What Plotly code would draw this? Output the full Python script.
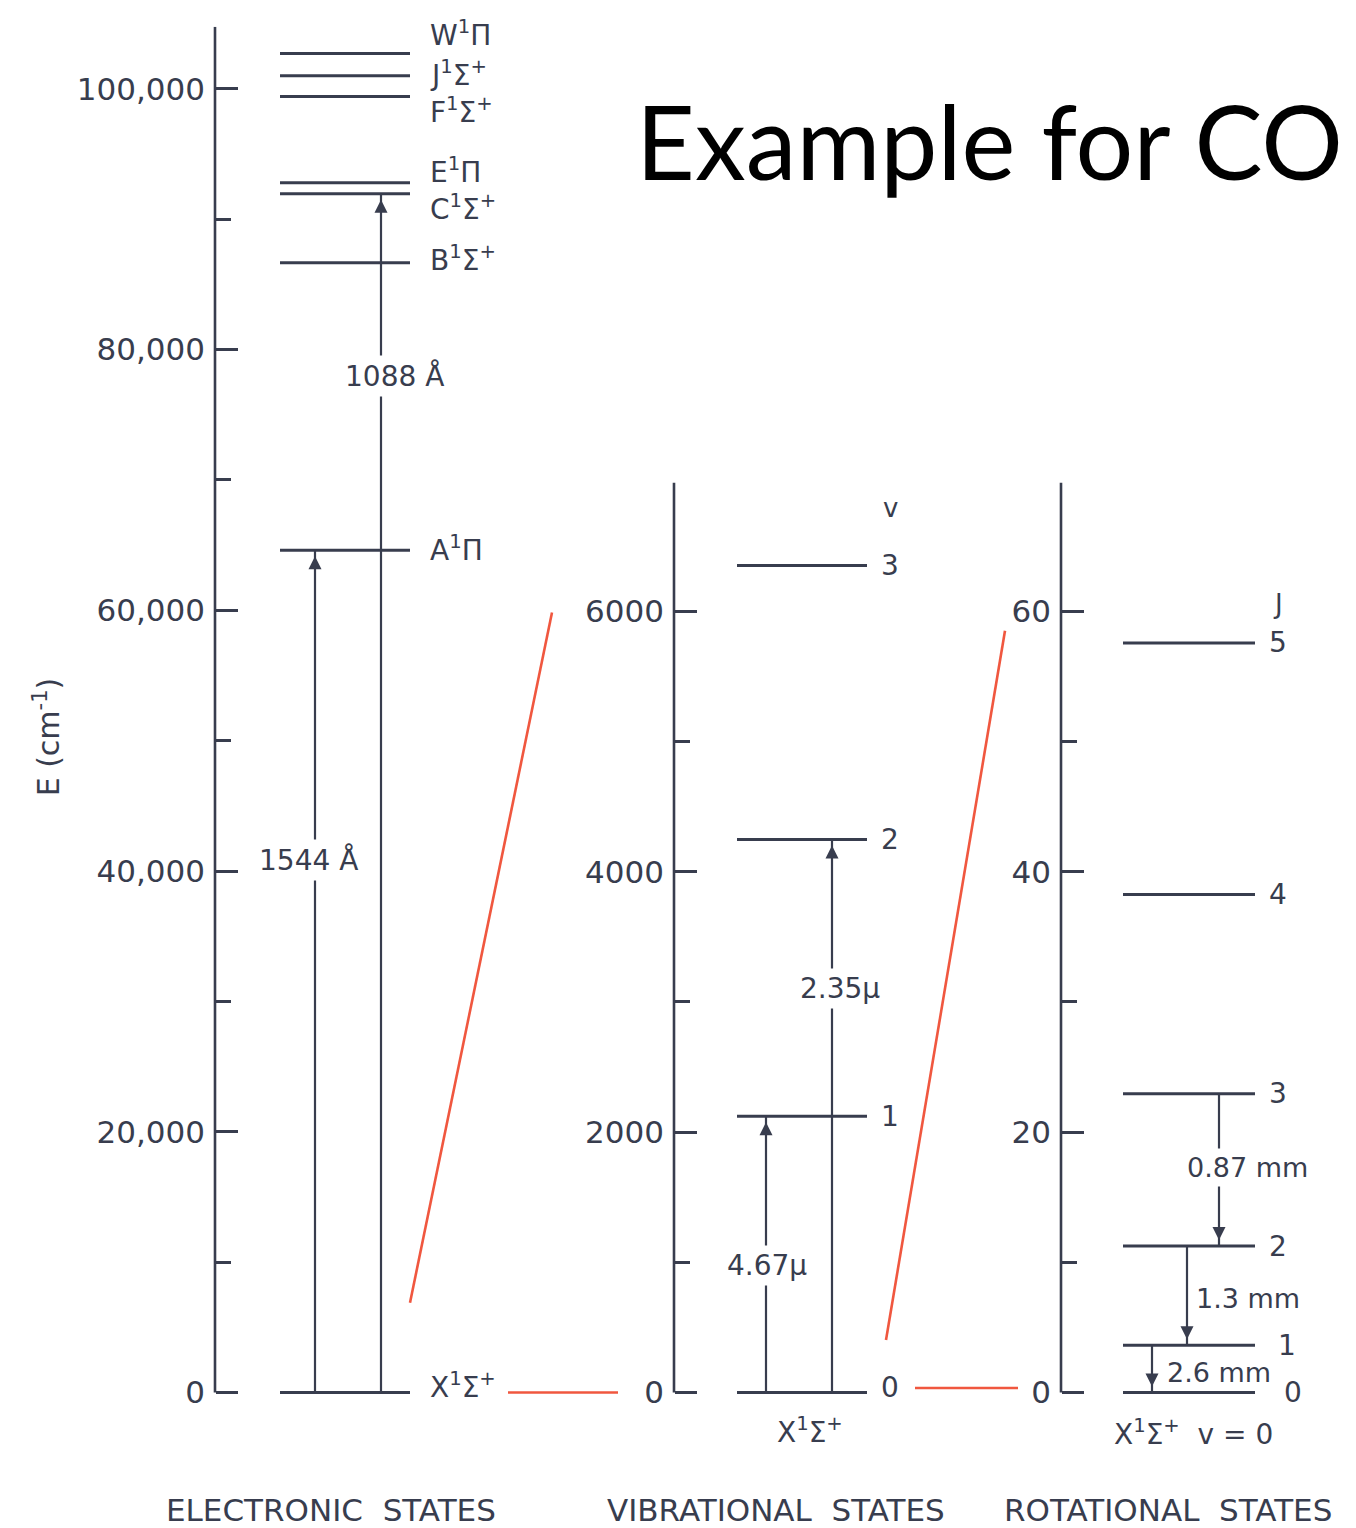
import plotly.graph_objects as go

# ---------------- data ----------------
# Electronic states of CO (cm^-1)
elec_labels = ["X<sup>1</sup>Σ<sup>+</sup>", "A<sup>1</sup>Π", "B<sup>1</sup>Σ<sup>+</sup>",
               "C<sup>1</sup>Σ<sup>+</sup>", "E<sup>1</sup>Π", "F<sup>1</sup>Σ<sup>+</sup>",
               "J<sup>1</sup>Σ<sup>+</sup>", "W<sup>1</sup>Π"]
elec_energy = [0, 64600, 86650, 91950, 92800, 99400, 101000, 102700]
elec_ticks = [0, 20000, 40000, 60000, 80000, 100000]
elec_tick_text = ["0", "20,000", "40,000", "60,000", "80,000", "100,000"]
elec_minor = [10000, 30000, 50000, 70000, 90000]
elec_trans_from = [0, 0]
elec_trans_to = [64600, 91950]
elec_trans_text = ["1544 Å", "1088 Å"]

# Vibrational states (cm^-1)
vib_labels = ["0", "1", "2", "3"]
vib_energy = [0, 2121, 4247, 6351]
vib_ticks = [0, 2000, 4000, 6000]
vib_tick_text = ["0", "2000", "4000", "6000"]
vib_minor = [1000, 3000, 5000]
vib_trans_from = [0, 0]
vib_trans_to = [2121, 4247]
vib_trans_text = ["4.67μ", "2.35μ"]

# Rotational states (cm^-1)
rot_labels = ["0", "1", "2", "3", "4", "5"]
rot_energy = [0, 3.63, 11.25, 22.95, 38.25, 57.57]
rot_ticks = [0, 20, 40, 60]
rot_tick_text = ["0", "20", "40", "60"]
rot_minor = [10, 30, 50]
rot_trans_from = [22.95, 11.25, 3.63]
rot_trans_to = [11.25, 3.63, 0]
rot_trans_text = ["0.87 mm", "1.3 mm", "2.6 mm"]

# zoom-link (red) lines, in units of the panel to their right
link1_y = [690, 5990]      # vibrational-axis units
link1_flat_y = [0, 0]
link2_y = [4.03, 58.5]     # rotational-axis units
link2_flat_y = [0.35, 0.35]

# ---------------- layout / style ----------------
W, H = 1356, 1528
INK = "#383d4e"
RED = "#f0573f"
FONT = "DejaVu Sans"

# vertical calibration of the rendered page (target pixel -> layout pixel)
VSCALE = 0.99655
VOFF = -0.7


def lp(q):
    return (q - VOFF) / VSCALE


ZERO_PX = lp(1392.5)
BOTTOM_PX = lp(1404)


def geom(top_px, px_per_unit):
    top = lp(top_px)
    ppu = px_per_unit / VSCALE
    rng = [-(BOTTOM_PX - ZERO_PX) / ppu, (ZERO_PX - top) / ppu]
    dom = [(H - BOTTOM_PX) / H, (H - top) / H]
    return rng, dom


panels = {
    "y": dict(axis_x=215, top=26, ppu=1304.4 / 100000, lvl=(280, 410)),
    "y2": dict(axis_x=674, top=482, ppu=781.6 / 6000, lvl=(737, 867)),
    "y3": dict(axis_x=1061, top=482, ppu=781.6 / 60, lvl=(1123, 1255)),
}
for k, p in panels.items():
    p["rng"], p["dom"] = geom(p["top"], p["ppu"])

fig = go.Figure()


def hline(yax, e, x0, x1, color=INK, width=3):
    fig.add_trace(go.Scatter(x=[x0, x1], y=[e, e], yaxis=yax, mode="lines",
                             line=dict(color=color, width=width), hoverinfo="skip"))


def seg(yax, xs, ys, color=INK, width=2.2):
    fig.add_trace(go.Scatter(x=xs, y=ys, yaxis=yax, mode="lines",
                             line=dict(color=color, width=width), hoverinfo="skip"))


annotations = []


def label(yax, x, y, text, size=28, xanchor="center", yshift=0, xshift=0, bg=None):
    a = dict(x=x, y=y, xref="x", yref=yax, text=text, showarrow=False,
             xanchor=xanchor, yanchor="middle", yshift=yshift, xshift=xshift,
             font=dict(family=FONT, size=size, color=INK))
    if bg:
        a.update(bgcolor=bg, borderpad=3)
    annotations.append(a)


def arrowhead(yax, x, y, up=True):
    annotations.append(dict(x=x, y=y, xref="x", yref=yax, text="", showarrow=True,
                            ax=0, ay=34 if up else -34, arrowhead=2, arrowsize=1.3,
                            arrowwidth=2, arrowcolor=INK, standoff=6))


# ----- electronic panel -----
p = panels["y"]
elec_shift = [7, 2, 4, -14, 12, -14, 2, 20]
for lab, e, sh in zip(elec_labels, elec_energy, elec_shift):
    hline("y", e, *p["lvl"])
    label("y", 428, e, lab, size=28, xanchor="left", yshift=sh)
elec_stem_x = [315, 381]
elec_label_pos = [(308, 40823), (394, 78005)]
for sx, lo, hi, t, (lx, ly) in zip(elec_stem_x, elec_trans_from, elec_trans_to,
                                  elec_trans_text, elec_label_pos):
    seg("y", [sx, sx], [lo, hi])
    arrowhead("y", sx, hi, up=True)
    label("y", lx, ly, t, size=28, bg="white")

# ----- vibrational panel -----
p = panels["y2"]
vib_shift = [5, 0, 0, 0]
for lab, e, sh in zip(vib_labels, vib_energy, vib_shift):
    hline("y2", e, *p["lvl"])
    label("y2", 890, e, lab, size=28, yshift=sh)
label("y2", 890, vib_energy[-1], "v", size=26, yshift=58)
label("y2", 810, 0, "X<sup>1</sup>Σ<sup>+</sup>", size=28, yshift=-38)
vib_stem_x = [766, 832]
vib_label_pos = [(767, 979), (840, 3105)]
for sx, lo, hi, t, (lx, ly) in zip(vib_stem_x, vib_trans_from, vib_trans_to,
                                  vib_trans_text, vib_label_pos):
    seg("y2", [sx, sx], [lo, hi])
    arrowhead("y2", sx, hi, up=True)
    label("y2", lx, ly, t, size=28, bg="white")

# ----- rotational panel -----
p = panels["y3"]
rot_xshift = [15, 9, 0, 0, 0, 0]
for lab, e, xs in zip(rot_labels, rot_energy, rot_xshift):
    hline("y3", e, *p["lvl"])
    label("y3", 1278, e, lab, size=28, xshift=xs)
label("y3", 1278, rot_energy[-1], "J", size=26, yshift=39)
label("y3", 1193, 0, "X<sup>1</sup>Σ<sup>+</sup>  v = 0", size=28, yshift=-40)
rot_stem_x = [1219, 1187, 1152]
rot_label_pos = [(1247, 17.31, "white"), (1248, 7.25, None), (1219, 1.57, None)]
for sx, hi, lo, t, (lx, ly, bg) in zip(rot_stem_x, rot_trans_from, rot_trans_to,
                                      rot_trans_text, rot_label_pos):
    seg("y3", [sx, sx], [lo, hi])
    arrowhead("y3", sx, lo, up=False)
    label("y3", lx, ly, t, size=27, bg=bg)

# ----- red zoom links -----
seg("y2", [410, 552], link1_y, color=RED, width=2.6)
seg("y2", [508, 618], link1_flat_y, color=RED, width=2.6)
seg("y3", [886, 1005], link2_y, color=RED, width=2.6)
seg("y3", [915, 1018], link2_flat_y, color=RED, width=2.6)

# ----- axis lines -----
shapes = []
for k, p in panels.items():
    shapes.append(dict(type="line", xref="x", yref=k, x0=p["axis_x"], x1=p["axis_x"],
                       y0=0, y1=p["rng"][1], line=dict(color=INK, width=2.6)))


# ----- paper-level text -----
def px(xp, yp):
    return xp / W, 1 - lp(yp) / H


for text, xc in [("ELECTRONIC  STATES", 331), ("VIBRATIONAL  STATES", 776),
                 ("ROTATIONAL  STATES", 1168)]:
    x, y = px(xc, 1510)
    annotations.append(dict(x=x, y=y, xref="paper", yref="paper", text=text,
                            showarrow=False, xanchor="center", yanchor="middle",
                            font=dict(family=FONT, size=31, color=INK)))
x, y = px(47, 737)
annotations.append(dict(x=x, y=y, xref="paper", yref="paper", text="E (cm<sup>-1</sup>)",
                        showarrow=False, textangle=-90, xanchor="center", yanchor="middle",
                        font=dict(family=FONT, size=30, color=INK)))
x, y = px(634, 140)
annotations.append(dict(x=x, y=y, xref="paper", yref="paper", text="Example for CO",
                        showarrow=False, xanchor="left", yanchor="middle",
                        font=dict(family="Lato", size=102, color="black")))


def yaxis_cfg(key, ticks, ticktext, minor):
    p = panels[key]
    return dict(domain=p["dom"], range=p["rng"], anchor="free", position=p["axis_x"] / W,
                showline=False, showgrid=False, zeroline=False,
                ticks="inside", ticklen=22, tickwidth=2.6, tickcolor=INK,
                tickmode="array", tickvals=ticks, ticktext=ticktext,
                tickfont=dict(family=FONT, size=31, color=INK), ticklabelstandoff=10,
                minor=dict(tickmode="array", tickvals=minor, ticks="inside", ticklen=15,
                           tickwidth=2.6, tickcolor=INK, showgrid=False),
                fixedrange=True)


fig.update_layout(
    width=W, height=H, margin=dict(l=0, r=0, t=0, b=0),
    paper_bgcolor="white", plot_bgcolor="rgba(0,0,0,0)", showlegend=False,
    xaxis=dict(range=[0, W], domain=[0, 1], visible=False, anchor="y", fixedrange=True),
    yaxis=yaxis_cfg("y", elec_ticks, elec_tick_text, elec_minor),
    yaxis2=yaxis_cfg("y2", vib_ticks, vib_tick_text, vib_minor),
    yaxis3=yaxis_cfg("y3", rot_ticks, rot_tick_text, rot_minor),
    annotations=annotations, shapes=shapes,
)

fig.write_html("out.html", config={"displayModeBar": False},
               post_script="document.body.style.margin='0';"
                           "document.documentElement.style.overflow='hidden';")
